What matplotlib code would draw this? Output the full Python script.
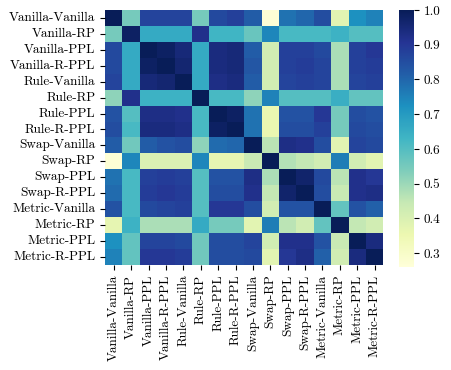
import numpy as np
import matplotlib
matplotlib.use("Agg")
import matplotlib.pyplot as plt
import seaborn as sns

plt.rcParams['font.family'] = ['cmr10', 'DejaVu Serif']
plt.rcParams['axes.formatter.use_mathtext'] = True

labels = ["Vanilla-Vanilla", "Vanilla-RP", "Vanilla-PPL", "Vanilla-R-PPL",
          "Rule-Vanilla", "Rule-RP", "Rule-PPL", "Rule-R-PPL",
          "Swap-Vanilla", "Swap-RP", "Swap-PPL", "Swap-R-PPL",
          "Metric-Vanilla", "Metric-RP", "Metric-PPL", "Metric-R-PPL"]

# correlaciones leidas a ojo del mapa de calor
corr = [
    [1.00, 0.55, 0.87, 0.87, 0.87, 0.55, 0.86, 0.88, 0.82, 0.27, 0.78, 0.80, 0.85, 0.38, 0.72, 0.75],
    [0.55, 0.98, 0.66, 0.66, 0.66, 0.92, 0.63, 0.63, 0.57, 0.74, 0.62, 0.62, 0.62, 0.64, 0.60, 0.60],
    [0.86, 0.66, 1.00, 0.98, 0.95, 0.66, 0.94, 0.95, 0.82, 0.42, 0.88, 0.88, 0.86, 0.48, 0.88, 0.90],
    [0.86, 0.66, 0.98, 1.00, 0.96, 0.66, 0.94, 0.95, 0.83, 0.42, 0.88, 0.89, 0.87, 0.48, 0.88, 0.89],
    [0.87, 0.66, 0.95, 0.96, 1.00, 0.66, 0.93, 0.94, 0.82, 0.42, 0.87, 0.88, 0.87, 0.48, 0.87, 0.88],
    [0.52, 0.92, 0.64, 0.64, 0.64, 1.00, 0.62, 0.62, 0.52, 0.75, 0.60, 0.60, 0.60, 0.65, 0.58, 0.58],
    [0.84, 0.60, 0.93, 0.93, 0.92, 0.62, 1.00, 0.98, 0.78, 0.36, 0.84, 0.84, 0.90, 0.55, 0.85, 0.84],
    [0.85, 0.62, 0.94, 0.94, 0.93, 0.62, 0.98, 1.00, 0.78, 0.36, 0.85, 0.85, 0.88, 0.55, 0.86, 0.85],
    [0.82, 0.56, 0.82, 0.84, 0.85, 0.52, 0.79, 0.80, 1.00, 0.46, 0.93, 0.92, 0.85, 0.38, 0.87, 0.86],
    [0.27, 0.74, 0.40, 0.40, 0.40, 0.74, 0.37, 0.37, 0.44, 1.00, 0.47, 0.45, 0.42, 0.76, 0.42, 0.38],
    [0.78, 0.62, 0.88, 0.89, 0.88, 0.60, 0.84, 0.84, 0.93, 0.48, 1.00, 0.97, 0.86, 0.46, 0.92, 0.90],
    [0.79, 0.62, 0.89, 0.90, 0.89, 0.60, 0.85, 0.85, 0.92, 0.45, 0.97, 1.00, 0.85, 0.44, 0.92, 0.93],
    [0.84, 0.62, 0.86, 0.87, 0.88, 0.60, 0.90, 0.90, 0.85, 0.42, 0.84, 0.84, 1.00, 0.58, 0.84, 0.81],
    [0.37, 0.64, 0.48, 0.48, 0.48, 0.66, 0.55, 0.55, 0.38, 0.76, 0.46, 0.42, 0.58, 1.00, 0.45, 0.42],
    [0.72, 0.58, 0.87, 0.87, 0.86, 0.56, 0.85, 0.85, 0.87, 0.42, 0.92, 0.92, 0.84, 0.44, 1.00, 0.94],
    [0.75, 0.58, 0.90, 0.90, 0.89, 0.56, 0.85, 0.85, 0.86, 0.38, 0.90, 0.93, 0.81, 0.42, 0.94, 1.00],
]
cbar_ticks = [0.3, 0.4, 0.5, 0.6, 0.7, 0.8, 0.9, 1.0]

fig = plt.figure(figsize=(4.51, 3.70), dpi=100)
ax = fig.add_axes([0.233, 0.284, 0.617, 0.689])
cax = fig.add_axes([0.885, 0.278, 0.033, 0.695])

sns.heatmap(np.array(corr), ax=ax, cbar_ax=cax, cmap="YlGnBu",
            vmin=0.26, vmax=1.0, xticklabels=labels, yticklabels=labels,
            cbar_kws={'ticks': cbar_ticks})

ax.tick_params(axis='both', labelsize=9.5)
plt.setp(ax.get_xticklabels(), rotation=90)
plt.setp(ax.get_yticklabels(), rotation=0)
cax.tick_params(labelsize=9.5)
cax.set_yticklabels([f"{t:.1f}" for t in cbar_ticks])

fig.savefig("out.png", dpi=100)
